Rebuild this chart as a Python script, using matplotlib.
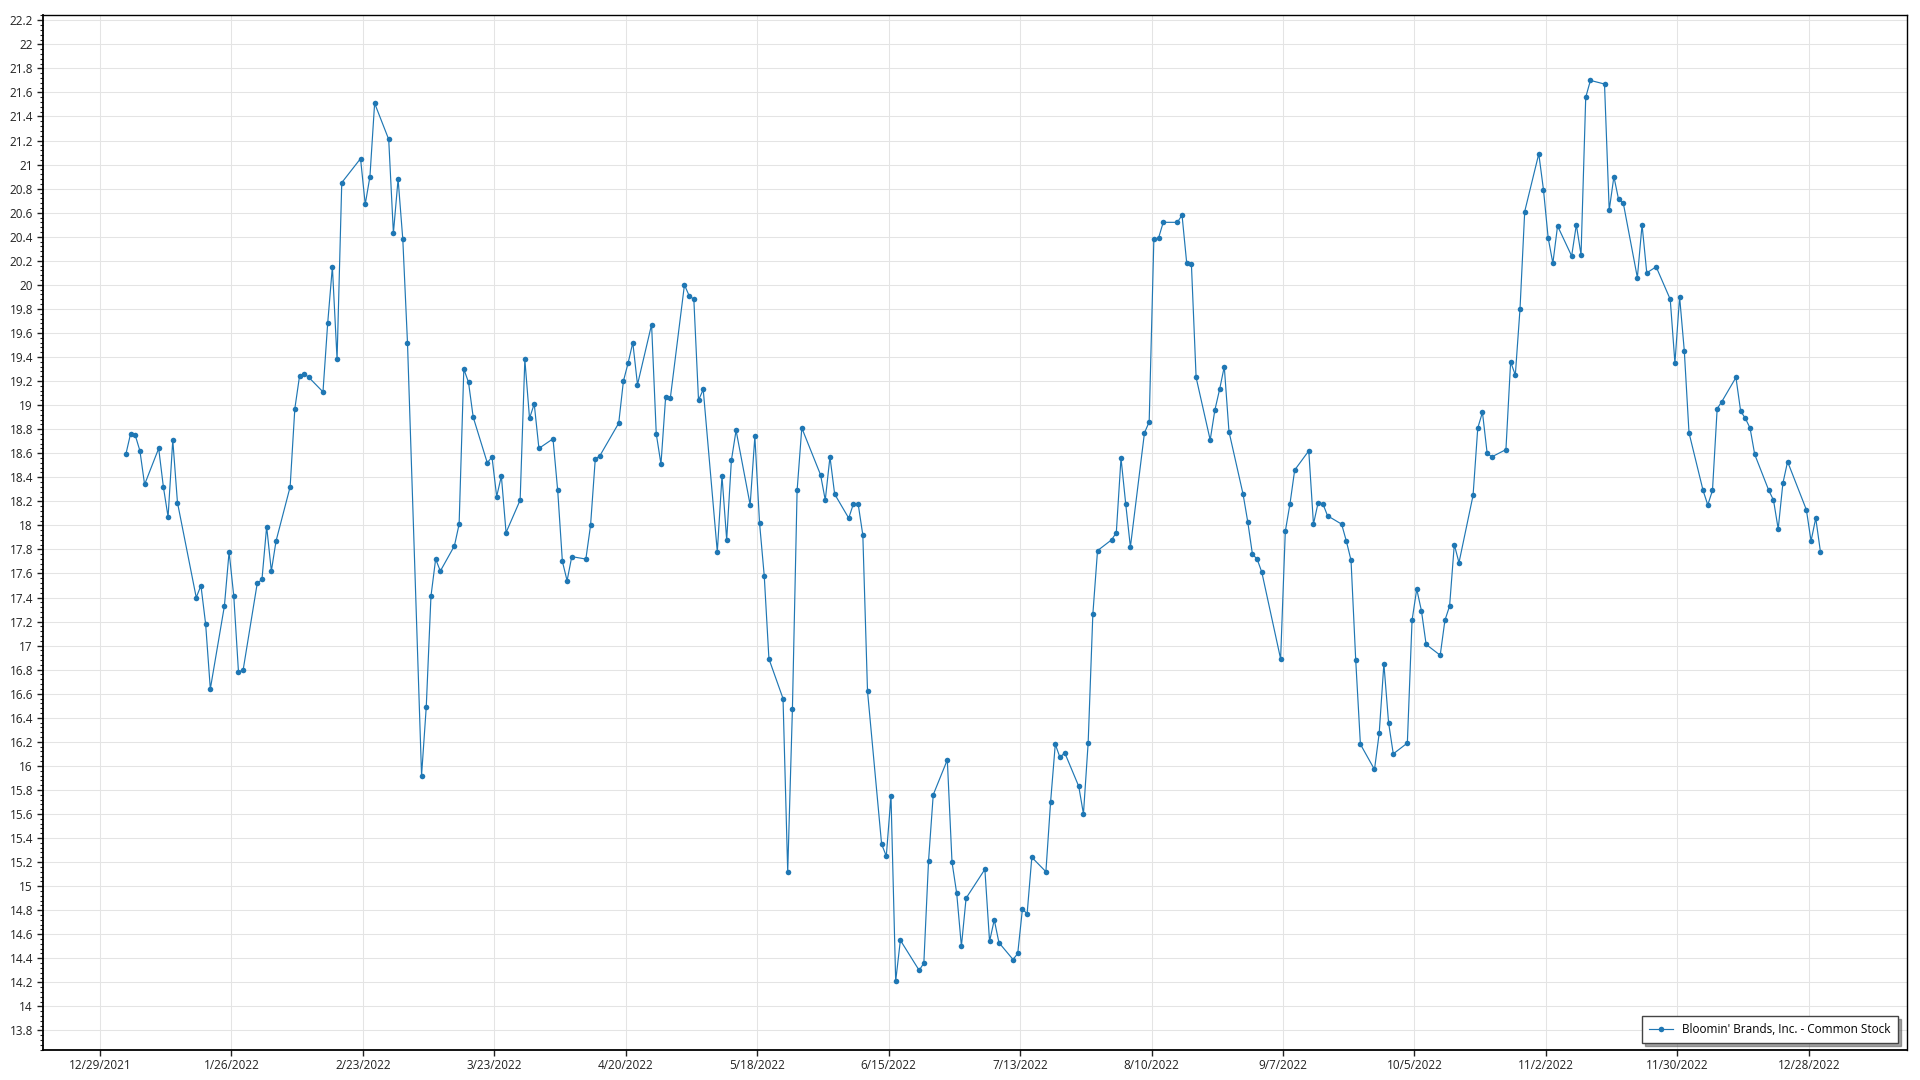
import matplotlib
matplotlib.use("Agg")
import matplotlib.pyplot as plt
from matplotlib.ticker import MultipleLocator, FuncFormatter
import pandas as pd

# NYSE holidays 2022 (no trading on these days)
holidays = ["2022-01-17", "2022-02-21", "2022-04-15", "2022-05-30", "2022-06-20",
            "2022-07-04", "2022-09-05", "2022-11-24", "2022-12-26"]

# Daily closing prices, month by month
jan = [18.59, 18.76, 18.75, 18.62, 18.34, 18.64, 18.32, 18.07, 18.71, 18.19,
       17.40, 17.50, 17.18, 16.64, 17.33, 17.78, 17.41, 16.78, 16.80, 17.52]
feb = [17.55, 17.99, 17.62, 17.87, 18.32, 18.97, 19.24, 19.26, 19.23, 19.11,
       19.68, 20.15, 19.38, 20.85, 21.05, 20.67, 20.90, 21.51, 21.21]
mar = [20.43, 20.88, 20.38, 19.52, 15.92, 16.49, 17.41, 17.72, 17.62, 17.83,
       18.01, 19.30, 19.19, 18.90, 18.52, 18.57, 18.24, 18.41, 17.94, 18.21,
       19.38, 18.89, 19.01]
apr = [18.64, 18.72, 18.29, 17.70, 17.54, 17.74, 17.72, 18.00, 18.55, 18.58,
       18.85, 19.20, 19.35, 19.52, 19.17, 19.67, 18.76, 18.51, 19.07, 19.06]
may = [20.00, 19.91, 19.88, 19.04, 19.13, 17.78, 18.41, 17.88, 18.54, 18.79,
       18.17, 18.74, 18.02, 17.58, 16.89, 16.56, 15.12, 16.47, 18.29, 18.81,
       18.42]
jun = [18.21, 18.57, 18.26, 18.06, 18.18, 18.18, 17.92, 16.62, 15.35, 15.25,
       15.75, 14.21, 14.55, 14.30, 14.36, 15.21, 15.76, 16.05, 15.20, 14.94,
       14.50]
jul = [14.90, 15.14, 14.54, 14.72, 14.53, 14.39, 14.44, 14.81, 14.77, 15.24,
       15.12, 15.70, 16.18, 16.07, 16.11, 15.83, 15.60, 16.19, 17.26, 17.79]
aug = [17.88, 17.94, 18.56, 18.18, 17.82, 18.77, 18.86, 20.38, 20.39, 20.52,
       20.52, 20.58, 20.18, 20.17, 19.23, 18.71, 18.96, 19.13, 19.32, 18.78,
       18.26, 18.03, 17.76]
sep = [17.72, 17.61, 16.89, 17.95, 18.18, 18.46, 18.62, 18.01, 18.19, 18.18,
       18.08, 18.01, 17.87, 17.71, 16.88, 16.18, 15.97, 16.27, 16.85, 16.36,
       16.10]
oct_ = [16.19, 17.21, 17.47, 17.29, 17.01, 16.92, 17.21, 17.33, 17.84, 17.69,
        18.25, 18.81, 18.94, 18.60, 18.57, 18.63, 19.36, 19.25, 19.80, 20.61,
        21.09]
nov = [20.79, 20.39, 20.18, 20.49, 20.24, 20.50, 20.25, 21.56, 21.70, 21.67,
       20.62, 20.90, 20.71, 20.68, 20.06, 20.50, 20.10, 20.15, 19.88, 19.35,
       19.90]
dec = [19.45, 18.77, 18.29, 18.17, 18.29, 18.97, 19.03, 19.23, 18.95, 18.89,
       18.81, 18.59, 18.29, 18.21, 17.97, 18.35, 18.53, 18.13, 17.87, 18.06,
       17.78]

closes = jan + feb + mar + apr + may + jun + jul + aug + sep + oct_ + nov + dec
dates = pd.bdate_range("2022-01-03", "2022-12-30", freq="C", holidays=holidays)
dates = dates + pd.Timedelta(hours=12)

tick_dates = pd.date_range("2021-12-29", "2022-12-28", freq="28D")
tick_labels = [f"{d.month}/{d.day}/{d.year}" for d in tick_dates]

plt.rcParams["font.family"] = ["Open Sans", "DejaVu Sans"]

fig = plt.figure(figsize=(19.2, 10.8), dpi=100)
ax = fig.add_axes([0.02224, 0.02806, 0.97073, 0.95805])

line_color = "#1f77b4"
ax.plot(dates, closes, color=line_color, linewidth=0.85, marker="o",
        markersize=4, markeredgewidth=0, label="Bloomin' Brands, Inc. - Common Stock")

# Axes
ax.set_xlim(pd.Timestamp("2021-12-16 19:00"), pd.Timestamp("2023-01-17 20:00"))
ax.set_ylim(13.64, 22.244)
ax.set_xticks(tick_dates)
ax.set_xticklabels(tick_labels)
ax.yaxis.set_major_locator(MultipleLocator(0.2))
ax.yaxis.set_minor_locator(MultipleLocator(0.04))
ax.yaxis.set_major_formatter(FuncFormatter(lambda v, p: f"{round(v, 2):g}"))

ax.grid(True, which="major", color="#e4e4e4", linewidth=0.75)
ax.set_axisbelow(True)
ax.tick_params(axis="both", which="major", labelsize=8.5, length=4, width=1,
               colors="#222222", pad=3)
ax.tick_params(axis="y", which="minor", length=2, width=0.8, colors="#222222")
ax.tick_params(axis="x", which="minor", length=0)
for side in ["left", "bottom", "top", "right"]:
    ax.spines[side].set_color("#000000")
    ax.spines[side].set_linewidth(1.0)
ax.spines["left"].set_linewidth(1.3)
ax.spines["bottom"].set_linewidth(1.3)

leg = ax.legend(loc="lower right", bbox_to_anchor=(0.9954, 0.0065), borderaxespad=0,
                fontsize=8.5, fancybox=False, shadow=True, framealpha=1,
                handlelength=2.0, borderpad=0.6)
leg.get_frame().set_edgecolor("#444444")
leg.get_frame().set_linewidth(1.0)

fig.savefig("out.png", dpi=100, facecolor="white")
